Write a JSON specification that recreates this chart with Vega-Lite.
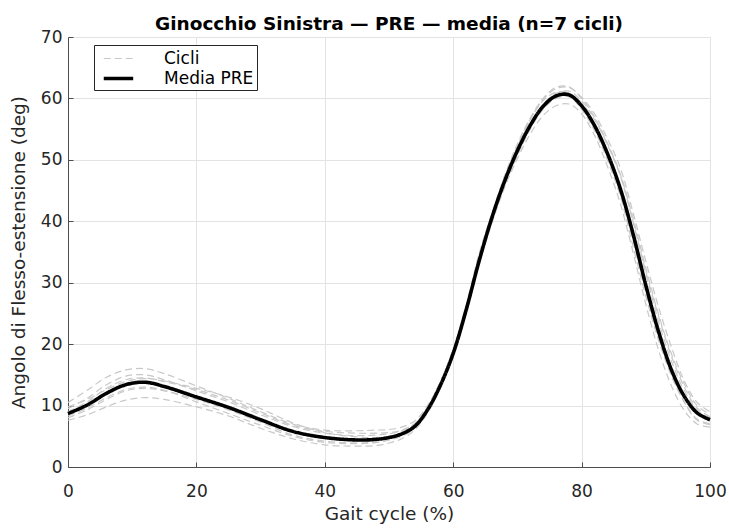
{
  "$schema": "https://vega.github.io/schema/vega-lite/v6.json",
  "width": 642,
  "height": 430,
  "autosize": {"type": "none"},
  "padding": {"left": 68, "top": 37, "right": 19, "bottom": 61},
  "background": "white",
  "title": {
    "text": "Ginocchio Sinistra — PRE — media (n=7 cicli)",
    "font": "DejaVu Sans",
    "fontSize": 18.5,
    "fontWeight": "bold",
    "color": "#000000",
    "anchor": "middle",
    "offset": -5
  },
  "data": {
    "values": [
      {"x": 0, "m": 8.7, "c1": 10.5, "c2": 7.6, "c3": 9.5, "c4": 8.0, "c5": 9.0, "c6": 8.3, "c7": 9.8},
      {"x": 3, "m": 10.1, "c1": 12.5, "c2": 8.5, "c3": 11.2, "c4": 9.3, "c5": 10.6, "c6": 9.6, "c7": 11.0},
      {"x": 6, "m": 12.0, "c1": 14.6, "c2": 9.8, "c3": 13.4, "c4": 11.0, "c5": 12.8, "c6": 11.3, "c7": 12.6},
      {"x": 9, "m": 13.4, "c1": 15.8, "c2": 10.9, "c3": 14.8, "c4": 12.4, "c5": 14.2, "c6": 12.6, "c7": 13.9},
      {"x": 12, "m": 13.8, "c1": 16.0, "c2": 11.3, "c3": 15.0, "c4": 12.8, "c5": 14.5, "c6": 13.0, "c7": 14.4},
      {"x": 15, "m": 13.1, "c1": 15.2, "c2": 11.0, "c3": 14.2, "c4": 12.4, "c5": 13.9, "c6": 12.5, "c7": 14.0},
      {"x": 20, "m": 11.4, "c1": 13.2, "c2": 9.8, "c3": 12.4, "c4": 11.0, "c5": 12.6, "c6": 10.6, "c7": 12.8},
      {"x": 25, "m": 9.7, "c1": 11.2, "c2": 8.3, "c3": 10.6, "c4": 9.3, "c5": 10.9, "c6": 8.7, "c7": 11.4},
      {"x": 30, "m": 7.7, "c1": 9.0, "c2": 6.3, "c3": 8.5, "c4": 7.3, "c5": 8.8, "c6": 6.8, "c7": 9.5},
      {"x": 35, "m": 5.8, "c1": 7.0, "c2": 4.6, "c3": 6.6, "c4": 5.2, "c5": 6.8, "c6": 5.0, "c7": 7.2},
      {"x": 40, "m": 4.8, "c1": 6.0, "c2": 3.6, "c3": 5.5, "c4": 4.2, "c5": 5.8, "c6": 4.0, "c7": 5.6},
      {"x": 45, "m": 4.4, "c1": 5.9, "c2": 3.4, "c3": 5.1, "c4": 3.9, "c5": 5.5, "c6": 3.8, "c7": 4.9},
      {"x": 48, "m": 4.5, "c1": 6.0, "c2": 3.5, "c3": 5.2, "c4": 4.0, "c5": 5.5, "c6": 4.0, "c7": 4.8},
      {"x": 50, "m": 4.8, "c1": 6.1, "c2": 3.9, "c3": 5.4, "c4": 4.4, "c5": 5.6, "c6": 4.4, "c7": 5.0},
      {"x": 52, "m": 5.4, "c1": 6.5, "c2": 4.6, "c3": 5.9, "c4": 5.0, "c5": 6.0, "c6": 5.1, "c7": 5.6},
      {"x": 54, "m": 6.6, "c1": 7.5, "c2": 6.0, "c3": 7.0, "c4": 6.3, "c5": 7.1, "c6": 6.4, "c7": 6.8},
      {"x": 56, "m": 9.3, "c1": 10.0, "c2": 8.8, "c3": 9.6, "c4": 9.0, "c5": 9.8, "c6": 9.1, "c7": 9.5},
      {"x": 58, "m": 13.3, "c1": 13.8, "c2": 12.8, "c3": 13.6, "c4": 13.0, "c5": 13.9, "c6": 13.1, "c7": 13.5},
      {"x": 60, "m": 18.5, "c1": 19.0, "c2": 18.0, "c3": 18.8, "c4": 18.2, "c5": 19.2, "c6": 18.3, "c7": 18.6},
      {"x": 62, "m": 25.5, "c1": 26.0, "c2": 25.0, "c3": 25.8, "c4": 25.2, "c5": 26.2, "c6": 25.3, "c7": 25.6},
      {"x": 64, "m": 33.4, "c1": 34.0, "c2": 33.0, "c3": 34.2, "c4": 33.4, "c5": 34.6, "c6": 33.2, "c7": 33.8},
      {"x": 66, "m": 40.5, "c1": 40.8, "c2": 39.6, "c3": 41.0, "c4": 40.0, "c5": 41.2, "c6": 39.8, "c7": 40.5},
      {"x": 68, "m": 46.5, "c1": 47.0, "c2": 45.5, "c3": 47.2, "c4": 46.0, "c5": 47.4, "c6": 45.8, "c7": 46.6},
      {"x": 70, "m": 51.5, "c1": 52.0, "c2": 50.2, "c3": 52.3, "c4": 51.0, "c5": 52.6, "c6": 50.7, "c7": 51.6},
      {"x": 72, "m": 55.6, "c1": 56.5, "c2": 54.2, "c3": 56.6, "c4": 55.2, "c5": 56.8, "c6": 55.0, "c7": 55.8},
      {"x": 74, "m": 58.7, "c1": 59.8, "c2": 57.2, "c3": 59.6, "c4": 58.4, "c5": 60.0, "c6": 58.2, "c7": 59.0},
      {"x": 76, "m": 60.4, "c1": 61.6, "c2": 58.8, "c3": 61.0, "c4": 60.2, "c5": 61.8, "c6": 60.0, "c7": 60.8},
      {"x": 78, "m": 60.6, "c1": 61.8, "c2": 59.1, "c3": 60.9, "c4": 60.4, "c5": 61.9, "c6": 60.3, "c7": 61.2},
      {"x": 80, "m": 58.8, "c1": 60.2, "c2": 57.5, "c3": 59.2, "c4": 58.2, "c5": 60.0, "c6": 58.4, "c7": 59.6},
      {"x": 82, "m": 55.6, "c1": 57.5, "c2": 54.0, "c3": 56.6, "c4": 54.8, "c5": 57.0, "c6": 55.2, "c7": 56.8},
      {"x": 84, "m": 51.1, "c1": 53.5, "c2": 49.0, "c3": 52.5, "c4": 50.0, "c5": 52.8, "c6": 50.6, "c7": 52.6},
      {"x": 86, "m": 45.4, "c1": 48.8, "c2": 43.0, "c3": 47.5, "c4": 44.2, "c5": 47.8, "c6": 45.0, "c7": 47.6},
      {"x": 88, "m": 38.0, "c1": 41.5, "c2": 35.0, "c3": 40.0, "c4": 36.0, "c5": 40.6, "c6": 37.0, "c7": 40.0},
      {"x": 90, "m": 29.6, "c1": 33.5, "c2": 26.5, "c3": 31.8, "c4": 27.8, "c5": 32.4, "c6": 28.5, "c7": 31.5},
      {"x": 92, "m": 22.0, "c1": 26.0, "c2": 19.0, "c3": 24.5, "c4": 20.6, "c5": 24.8, "c6": 21.0, "c7": 23.6},
      {"x": 94, "m": 15.8, "c1": 19.5, "c2": 13.2, "c3": 18.0, "c4": 14.8, "c5": 18.4, "c6": 15.0, "c7": 17.2},
      {"x": 96, "m": 11.5, "c1": 14.0, "c2": 9.2, "c3": 13.0, "c4": 10.6, "c5": 13.5, "c6": 10.5, "c7": 12.4},
      {"x": 98, "m": 8.8, "c1": 10.5, "c2": 7.0, "c3": 9.6, "c4": 7.8, "c5": 10.0, "c6": 7.6, "c7": 9.3},
      {"x": 100, "m": 7.7, "c1": 9.0, "c2": 6.5, "c3": 8.2, "c4": 7.0, "c5": 8.6, "c6": 6.9, "c7": 8.0}
    ]
  },
  "encoding": {
    "x": {
      "field": "x",
      "type": "quantitative",
      "scale": {"domain": [0, 100], "nice": false, "zero": false},
      "axis": {"title": "Gait cycle (%)", "values": [0, 20, 40, 60, 80, 100]}
    }
  },
  "layer": [
    {
      "transform": [{"fold": ["c1", "c2", "c3", "c4", "c5", "c6", "c7"], "as": ["ciclo", "y"]}],
      "mark": {"type": "line", "interpolate": "catmull-rom"},
      "encoding": {
        "y": {
          "field": "y",
          "type": "quantitative",
          "scale": {"domain": [0, 70], "nice": false},
          "axis": {"title": "Angolo di Flesso-estensione (deg)", "values": [0, 10, 20, 30, 40, 50, 60, 70]}
        },
        "detail": {"field": "ciclo"},
        "color": {"datum": "Cicli", "type": "nominal", "scale": {"domain": ["Cicli", "Media PRE"], "range": ["#c8c8c8", "#000000"]}, "legend": {"title": null}},
        "strokeDash": {"datum": "Cicli", "type": "nominal", "scale": {"domain": ["Cicli", "Media PRE"], "range": [[7, 4], [1, 0]]}, "legend": {"title": null}},
        "strokeWidth": {"datum": "Cicli", "type": "ordinal", "scale": {"domain": ["Cicli", "Media PRE"], "range": [1.2, 3.6]}, "legend": {"title": null}}
      }
    },
    {
      "mark": {"type": "line", "interpolate": "catmull-rom"},
      "encoding": {
        "y": {"field": "m", "type": "quantitative"},
        "color": {"datum": "Media PRE", "type": "nominal"},
        "strokeDash": {"datum": "Media PRE", "type": "nominal"},
        "strokeWidth": {"datum": "Media PRE", "type": "ordinal"}
      }
    }
  ],
  "config": {
    "view": {"stroke": null},
    "axis": {
      "labelFont": "DejaVu Sans",
      "labelFontSize": 17,
      "labelColor": "#262626",
      "titleFont": "DejaVu Sans",
      "titleFontSize": 18.5,
      "titleFontWeight": "normal",
      "titleColor": "#262626",
      "domainColor": "#4d4d4d",
      "domainWidth": 1,
      "tickColor": "#4d4d4d",
      "tickSize": -5,
      "gridColor": "#e3e3e3",
      "gridWidth": 1,
      "labelFlush": false
    },
    "axisX": {"labelPadding": 21, "titlePadding": 5},
    "axisY": {"labelPadding": 11, "titlePadding": 12},
    "legend": {
      "orient": "none",
      "legendX": 26,
      "legendY": 8,
      "fillColor": "white",
      "strokeColor": "#262626",
      "padding": 3,
      "symbolType": "M-0.5,0H2.6",
      "symbolSize": 361,
      "labelFont": "DejaVu Sans",
      "labelFontSize": 17,
      "labelColor": "#000000",
      "rowPadding": 0,
      "labelOffset": 44
    }
  }
}
